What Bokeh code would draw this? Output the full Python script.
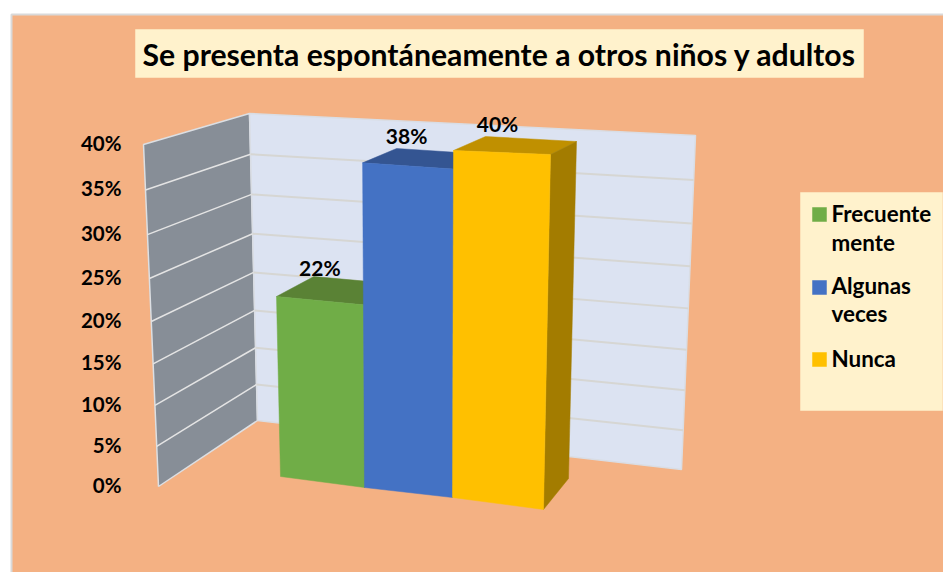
import numpy as np
from bokeh.plotting import figure
from bokeh.core.properties import value
from bokeh.embed import file_html
from bokeh.resources import INLINE

# ---- data ----
title_text = "Se presenta espontáneamente a otros niños y adultos"
categories = ["Frecuentemente", "Algunas veces", "Nunca"]
legend_lines = [["Frecuente", "mente"], ["Algunas", "veces"], ["Nunca"]]
values_pct = [22, 38, 40]
axis_ticks = [0, 5, 10, 15, 20, 25, 30, 35, 40]
bar_colors = ["#70ad47", "#4472c4", "#ffc000"]
top_colors = ["#5a8235", "#345592", "#c09000"]
side_colors = ["#5a8235", "#345592", "#a37c00"]

# ---- 3D projection calibrated on the picture's box ----
VMAX = 40.0
KP = 0.068
def t(v):
    f = np.asarray(v, dtype=float) / VMAX
    return f * (1 - KP) / (1 - KP * f)

def lerp(a, b, s):
    return (a[0] + (b[0] - a[0]) * s, a[1] + (b[1] - a[1]) * s)

# bar slots: edges u = 0..3, front and back planes, bottom and top (at VMAX)
FB = [(280, 476), (364, 487), (452, 497), (543, 509)]
FT = [(272.5, 138), (362, 144), (453, 150), (550, 154)]
BB = [(316, 447), (398, 458), (481, 468), (568, 478)]
BT = [(311, 126), (396, 130.5), (485, 136), (576, 141)]

def bar_pt(u, v, back=False):
    b, tp = (BB, BT) if back else (FB, FT)
    return lerp(b[u], tp[u], float(t(v)))

# walls
LW_FRONT = ((158, 486), (143, 144))
LW_BACK = ((257, 420), (249, 113))
RW_EDGE = ((681, 469), (695, 135))

def wall_pt(edge, v):
    return lerp(edge[0], edge[1], float(t(v)))

p = figure(width=943, height=572, x_range=(0, 943), y_range=(572, 0),
           x_axis_location=None, y_axis_location=None, toolbar_location=None,
           output_backend="svg", min_border=0, outline_line_color=None,
           background_fill_color="#ffffff", border_fill_color="#ffffff")
p.grid.visible = False

def poly(pts, fill, line=None, lw=1.0):
    xs = [q[0] for q in pts]
    ys = [q[1] for q in pts]
    p.patch(xs, ys, fill_color=fill, line_color=line if line else fill, line_width=lw if line else 0.5)

FONT = value("Lato")
TEXT_DY = -1.5
def label(x, y, s, size, align="left"):
    p.text([x], [y + TEXT_DY], text=[s], text_font=FONT, text_font_style="bold", text_font_size=f"{size}px",
           text_color="#000000", text_align=align, text_baseline="middle")

# chart area, title box, legend box
poly([(11, 14), (944, 14), (944, 573), (11, 573)], "#f4b183", "#d9d9d9", 2)
poly([(135, 29), (863, 29), (863, 77), (135, 77)], "#fff2cc")
label(499, 55, title_text, 30.2, "center")
poly([(800, 192), (942, 192), (942, 410), (800, 410)], "#fff2cc")

# walls
vtop, vbot = axis_ticks[-1], axis_ticks[0]
poly([wall_pt(LW_FRONT, vbot), wall_pt(LW_BACK, vbot), wall_pt(LW_BACK, vtop), wall_pt(LW_FRONT, vtop)],
     "#878e97", "#dcdfe3", 1.5)
poly([wall_pt(LW_BACK, vbot), wall_pt(RW_EDGE, vbot), wall_pt(RW_EDGE, vtop), wall_pt(LW_BACK, vtop)],
     "#dce3f2", "#d9dde4", 1.5)
for v in axis_ticks[1:-1]:
    a, b, c = wall_pt(LW_FRONT, v), wall_pt(LW_BACK, v), wall_pt(RW_EDGE, v)
    p.line([a[0], b[0]], [a[1], b[1]], line_color="#e4e4e4", line_width=1.5)
    p.line([b[0], c[0]], [b[1], c[1]], line_color="#d6d6d3", line_width=2)

# axis tick labels
for v in axis_ticks:
    label(121, wall_pt(LW_FRONT, v)[1], f"{v}%", 20.5, "right")

# bars
label_offset = [(6, -8), (10, -12), (12, -12)]
for i, v in enumerate(values_pct):
    fl, fr = bar_pt(i, v), bar_pt(i + 1, v)
    bl, br = bar_pt(i, v, True), bar_pt(i + 1, v, True)
    poly([fl, fr, br, bl], top_colors[i])
    poly([bar_pt(i + 1, 0), bar_pt(i + 1, 0, True), br, fr], side_colors[i])
    poly([bar_pt(i, 0), bar_pt(i + 1, 0), fr, fl], bar_colors[i])
for i, v in enumerate(values_pct):
    bl = bar_pt(i, v, True)
    label(bl[0] + label_offset[i][0], bl[1] + label_offset[i][1], f"{v}%", 21, "center")

# legend
swatch_y = [214, 287, 359]
line_y = [[214, 243], [286, 314], [359]]
for i, lines in enumerate(legend_lines):
    y = swatch_y[i]
    poly([(812, y - 7), (826, y - 7), (826, y + 7), (812, y + 7)], bar_colors[i])
    for s, ly in zip(lines, line_y[i]):
        label(831, ly, s, 22.4)

open("out.html", "w").write(file_html(p, INLINE))
